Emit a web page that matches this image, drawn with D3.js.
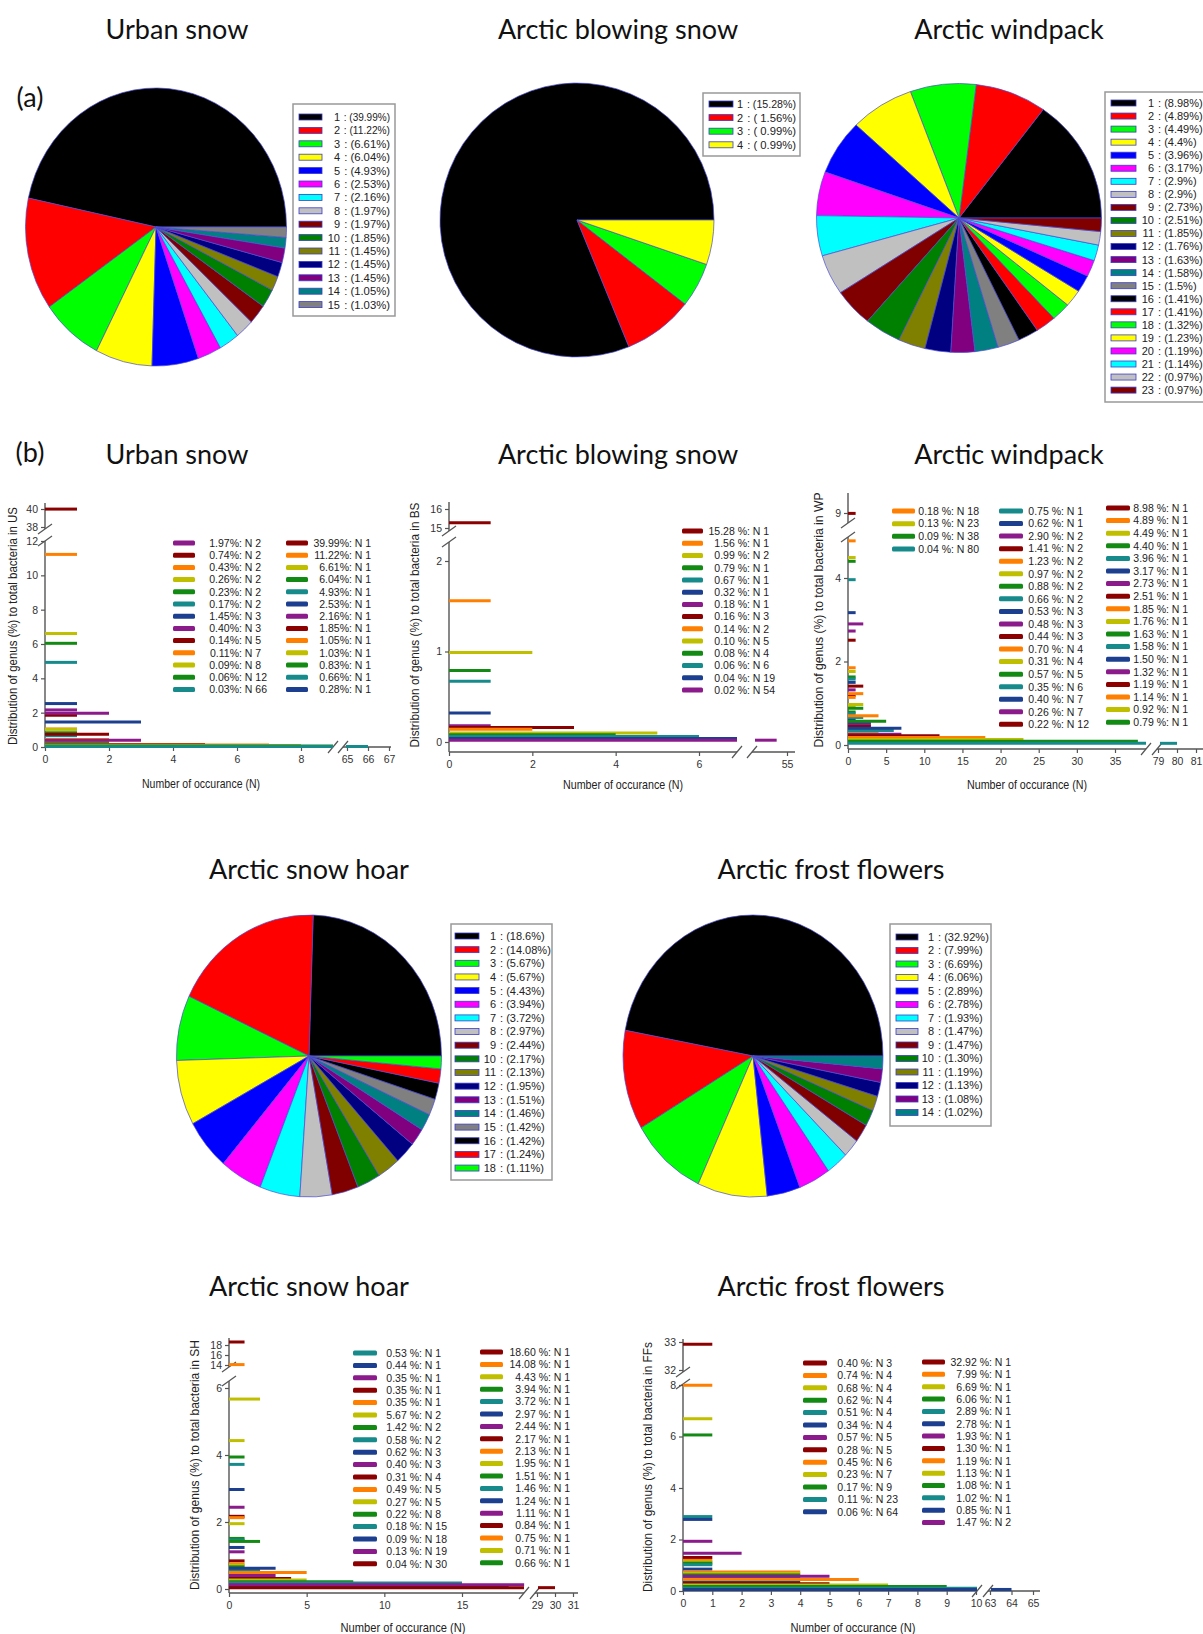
<!DOCTYPE html>
<html>
<head>
<meta charset="utf-8">
<script src="https://d3js.org/d3.v7.min.js"></script>
<style>
body { margin: 0; background: #fff; }
svg { display: block; font-family: "Liberation Sans", Arial, sans-serif; }
text { white-space: pre; }
</style>
</head>
<body>
<svg id="fig" width="1203" height="1634"></svg>
<script>
// ---- (a) pie data: genus share (%) per sample ----
const usPie = [39.99, 11.22, 6.61, 6.04, 4.93, 2.53, 2.16, 1.97, 1.97, 1.85, 1.45, 1.45, 1.45, 1.05, 1.03];
const bsPie = [15.28, 1.56, 0.99, 0.99];
// the windpack pie has 24 slices, its legend lists 23 of them (second 1.23 left out)
const wpPie = [8.98, 4.89, 4.49, 4.4, 3.96, 3.17, 2.9, 2.9, 2.73, 2.51, 1.85, 1.76, 1.63, 1.58, 1.5, 1.41, 1.41, 1.32, 1.23, 1.23, 1.19, 1.14, 0.97, 0.97];
const wpPieLegend = [8.98, 4.89, 4.49, 4.4, 3.96, 3.17, 2.9, 2.9, 2.73, 2.51, 1.85, 1.76, 1.63, 1.58, 1.5, 1.41, 1.41, 1.32, 1.23, 1.19, 1.14, 0.97, 0.97];
const shPie = [18.6, 14.08, 5.67, 5.67, 4.43, 3.94, 3.72, 2.97, 2.44, 2.17, 2.13, 1.95, 1.51, 1.46, 1.42, 1.42, 1.24, 1.11];
const ffPie = [32.92, 7.99, 6.69, 6.06, 2.89, 2.78, 1.93, 1.47, 1.47, 1.30, 1.19, 1.13, 1.08, 1.02];

// ---- (b) genus share (%) and number of occurrences N, in legend order ----
const usPct = [39.99, 11.22, 6.61, 6.04, 4.93, 2.53, 2.16, 1.85, 1.05, 1.03, 0.83, 0.66, 0.28,
               1.97, 0.74, 0.43, 0.26, 0.23, 0.17, 1.45, 0.4, 0.14, 0.11, 0.09, 0.06, 0.03];
const usN   = [1, 1, 1, 1, 1, 1, 1, 1, 1, 1, 1, 1, 1,
               2, 2, 2, 2, 2, 2, 3, 3, 5, 7, 8, 12, 66];

const bsPct = [15.28, 1.56, 0.99, 0.79, 0.67, 0.32, 0.18, 0.16, 0.14, 0.10, 0.08, 0.06, 0.04, 0.02];
const bsN   = [1, 1, 2, 1, 1, 1, 1, 3, 2, 5, 4, 6, 19, 54];

const wpPct = [8.98, 4.89, 4.49, 4.40, 3.96, 3.17, 2.73, 2.51, 1.85, 1.76, 1.63, 1.58, 1.50, 1.32, 1.19, 1.14, 0.92, 0.79,
               0.75, 0.62, 2.90, 1.41, 1.23, 0.97, 0.88, 0.66, 0.53, 0.48, 0.44, 0.70, 0.31, 0.57, 0.35, 0.40, 0.26, 0.22,
               0.18, 0.13, 0.09, 0.04];
const wpN   = [1, 1, 1, 1, 1, 1, 1, 1, 1, 1, 1, 1, 1, 1, 1, 1, 1, 1,
               1, 1, 2, 2, 2, 2, 2, 2, 3, 3, 3, 4, 4, 5, 6, 7, 7, 12,
               18, 23, 38, 80];

const shPct = [18.60, 14.08, 4.43, 3.94, 3.72, 2.97, 2.44, 2.17, 2.13, 1.95, 1.51, 1.46, 1.24, 1.11, 0.84, 0.75, 0.71, 0.66,
               0.53, 0.44, 0.35, 0.35, 0.35, 5.67, 1.42, 0.58, 0.62, 0.40, 0.31, 0.49, 0.27, 0.22, 0.18, 0.09, 0.13, 0.04];
const shN   = [1, 1, 1, 1, 1, 1, 1, 1, 1, 1, 1, 1, 1, 1, 1, 1, 1, 1,
               1, 1, 1, 1, 1, 2, 2, 2, 3, 3, 4, 5, 5, 8, 15, 18, 19, 30];

const ffPct = [32.92, 7.99, 6.69, 6.06, 2.89, 2.78, 1.93, 1.30, 1.19, 1.13, 1.08, 1.02, 0.85, 1.47,
               0.40, 0.74, 0.68, 0.62, 0.51, 0.34, 0.57, 0.28, 0.45, 0.23, 0.17, 0.11, 0.06];
const ffN   = [1, 1, 1, 1, 1, 1, 1, 1, 1, 1, 1, 1, 1, 2,
               3, 4, 4, 4, 4, 4, 5, 5, 6, 7, 9, 23, 64];

const pieColors = ['#000000', '#ff0000', '#00ff00', '#ffff00', '#0000ff', '#ff00ff', '#00ffff', '#c0c0c0',
                   '#800000', '#008000', '#808000', '#000080', '#800080', '#008080', '#808080'];
const barColors = ['#8b0000', '#ff7f00', '#bfbf00', '#138a13', '#178b8b', '#1c3f8f', '#8b1a8b'];

const svg = d3.select('#fig');

function title(txt, x, y) {
    svg.append('text')
        .attr('x', x).attr('y', y)
        .attr('text-anchor', 'middle')
        .style('font-family', 'Lato, "Open Sans", sans-serif')
        .style('font-size', '27px')
        .attr('fill', '#111')
        .text(txt);
}

function drawPie(o) {
    const g = svg.append('g')
        .attr('transform', `translate(${o.cx},${o.cy}) scale(${o.rx / o.ry},1)`);
    const pie = d3.pie().sort(null)
        .startAngle(Math.PI / 2)
        .endAngle(Math.PI / 2 - 2 * Math.PI); // counter-clockwise from 3 o'clock
    const arc = d3.arc().innerRadius(0).outerRadius(o.ry);

    g.selectAll('path')
        .data(pie(o.values))
        .join('path')
        .attr('d', arc)
        .attr('fill', (d, i) => pieColors[i % pieColors.length])
        .attr('stroke', '#4a4ad6')
        .attr('stroke-width', 0.7)
        .attr('vector-effect', 'non-scaling-stroke');

    // legend box
    const lg = svg.append('g');
    lg.append('rect')
        .attr('x', o.box[0]).attr('y', o.box[1])
        .attr('width', o.box[2]).attr('height', o.box[3])
        .attr('fill', '#fff')
        .attr('stroke', '#999')
        .attr('stroke-width', 1.5);

    const rows = lg.selectAll('g.row')
        .data(o.legend)
        .join('g')
        .attr('class', 'row')
        .attr('transform', (d, i) => `translate(0,${o.row0 + i * o.step})`);

    rows.append('rect')
        .attr('x', o.swX).attr('y', -3)
        .attr('width', o.swW).attr('height', 6)
        .attr('fill', (d, i) => pieColors[o.colorOf(i) % pieColors.length])
        .attr('stroke', '#3c3cc8')
        .attr('stroke-width', 0.8);

    rows.append('text')
        .attr('x', o.numX).attr('y', 3.9)
        .attr('text-anchor', 'end')
        .style('font-size', '11px')
        .attr('fill', '#222')
        .text((d, i) => i + 1);

    rows.append('text')
        .attr('x', o.numX + 1).attr('y', 3.9)
        .style('font-size', '11px')
        .attr('textLength', o.restLen)
        .attr('lengthAdjust', 'spacingAndGlyphs')
        .attr('fill', '#222')
        .text(d => ' : (' + o.fmt(d) + '%)');
}

function slash(g, x, y, dx, dy) {
    g.append('line')
        .attr('x1', x - dx).attr('y1', y + dy)
        .attr('x2', x + dx).attr('y2', y - dy)
        .attr('stroke', '#555').attr('stroke-width', 1.2);
}

function drawBars(o, pct, occ) {
    const g = svg.append('g');
    const yLo = d3.scaleLinear().domain(o.yLo[0]).range(o.yLo[1]);
    const yUp = d3.scaleLinear().domain(o.yUp[0]).range(o.yUp[1]);
    const xLo = d3.scaleLinear().domain(o.xLo[0]).range(o.xLo[1]);
    const xUp = d3.scaleLinear().domain(o.xUp[0]).range(o.xUp[1]);
    const fmt = d3.format('d');

    const axisStyle = sel => {
        sel.select('.domain').remove();
        sel.selectAll('.tick line').attr('stroke', '#555').attr('stroke-width', 1.2);
        sel.selectAll('.tick text')
            .attr('fill', '#333')
            .style('font-size', '10.5px')
            .style('font-family', '"Liberation Sans", Arial, sans-serif');
    };

    g.append('g').attr('transform', `translate(${o.ax},0)`)
        .call(d3.axisLeft(yLo).tickValues(o.yLoTicks).tickFormat(fmt).tickSize(4).tickPadding(3))
        .call(axisStyle);
    g.append('g').attr('transform', `translate(${o.ax},0)`)
        .call(d3.axisLeft(yUp).tickValues(o.yUpTicks).tickFormat(fmt).tickSize(4).tickPadding(3))
        .call(axisStyle);
    g.append('g').attr('transform', `translate(0,${o.ay})`)
        .call(d3.axisBottom(xLo).tickValues(o.xLoTicks).tickFormat(fmt).tickSize(4).tickPadding(5))
        .call(axisStyle);
    g.append('g').attr('transform', `translate(0,${o.ay})`)
        .call(d3.axisBottom(xUp).tickValues(o.xUpTicks).tickFormat(fmt).tickSize(4).tickPadding(5))
        .call(axisStyle);

    // axis lines with breaks
    const axLines = [
        [o.ax, o.ay, o.ax, o.yLoTop],
        [o.ax, o.yUpBot, o.ax, o.yTop],
        [o.ax, o.ay, o.xBreak, o.ay],
        [o.xUpStart, o.ay, o.xEnd, o.ay]
    ];
    g.selectAll('line.axl')
        .data(axLines)
        .join('line')
        .attr('class', 'axl')
        .attr('x1', d => d[0]).attr('y1', d => d[1])
        .attr('x2', d => d[2]).attr('y2', d => d[3])
        .attr('stroke', '#555').attr('stroke-width', 1.4);
    slash(g, o.ax, o.yLoTop, 7, 5);
    slash(g, o.ax, o.yUpBot, 7, 5);
    slash(g, o.xBreak, o.ay, 5, 6);
    slash(g, o.xUpStart, o.ay, 5, 6);

    // bars: one horizontal line per genus group, at y = share, length = N
    const loMax = xLo.invert(o.xBreak);
    const segs = [];
    pct.forEach((p, i) => {
        const y = p > o.yBreak ? yUp(p) : yLo(p);
        const c = barColors[i % barColors.length];
        const n = occ[i];
        if (n <= loMax + 0.01) {
            segs.push({ x1: xLo(0), x2: xLo(n), y, c });
        } else {
            segs.push({ x1: xLo(0), x2: o.xBreak, y, c });
            if (n >= xUp.domain()[0]) segs.push({ x1: o.xUpStart + 3, x2: xUp(n), y, c });
        }
    });
    g.selectAll('line.bar')
        .data(segs)
        .join('line')
        .attr('class', 'bar')
        .attr('x1', d => d.x1).attr('x2', d => d.x2)
        .attr('y1', d => d.y).attr('y2', d => d.y)
        .attr('stroke', d => d.c)
        .attr('stroke-width', 3);

    // axis titles
    g.append('text')
        .attr('transform', `translate(${o.yLabel[0]},${o.yLabel[1]}) rotate(-90)`)
        .attr('text-anchor', 'middle')
        .attr('dy', '0.35em')
        .attr('textLength', o.yLabel[2])
        .attr('lengthAdjust', 'spacingAndGlyphs')
        .style('font-size', '12.5px')
        .attr('fill', '#222')
        .text('Distribution of genus (%) to total bacteria in ' + o.tag);
    g.append('text')
        .attr('x', o.xLabel[0]).attr('y', o.xLabel[1])
        .attr('text-anchor', 'middle')
        .attr('textLength', o.xLabel[2])
        .attr('lengthAdjust', 'spacingAndGlyphs')
        .style('font-size', '13.5px')
        .attr('fill', '#222')
        .text('Number of occurance (N)');

    // legend columns
    let start = 0;
    o.cols.forEach(col => {
        const idx = d3.range(start, start + col.count);
        start += col.count;
        const rows = g.append('g').selectAll('g')
            .data(idx)
            .join('g')
            .attr('transform', (d, k) => `translate(0,${col.y0 + k * col.dy})`);
        rows.append('rect')
            .attr('x', col.swX).attr('y', -2.5)
            .attr('width', col.swW).attr('height', 5)
            .attr('rx', 1.5)
            .attr('fill', d => barColors[d % barColors.length]);
        rows.append('text')
            .attr('x', col.pctX).attr('y', 3.8)
            .attr('text-anchor', 'end')
            .style('font-size', '10.5px')
            .attr('fill', '#222')
            .text(d => pct[d].toFixed(2) + o.pctSuffix);
        rows.append('text')
            .attr('x', col.pctX).attr('y', 3.8)
            .style('font-size', '10.5px')
            .attr('fill', '#222')
            .text(d => ': N ' + occ[d]);
    });
}

// ---------- titles ----------
const topNames = ['Urban snow', 'Arctic blowing snow', 'Arctic windpack'];
const topX = [177, 618, 1009];
const lowNames = ['Arctic snow hoar', 'Arctic frost flowers'];
const lowX = [309, 831];
topNames.forEach((t, i) => { title(t, topX[i], 39); title(t, topX[i], 464); });
lowNames.forEach((t, i) => { title(t, lowX[i], 879); title(t, lowX[i], 1296); });
title('(a)', 30, 107);
title('(b)', 30, 462);

// ---------- (a) pies ----------
const f2 = d => d.toFixed(2);
drawPie({ cx: 156, cy: 227, rx: 130.5, ry: 139, values: usPie, legend: usPie, colorOf: i => i, fmt: f2, restLen: 49,
    box: [293, 104, 102, 212], row0: 117, step: 13.4, swX: 299, swW: 23, numX: 340 });
drawPie({ cx: 577, cy: 220, rx: 137, ry: 137, values: bsPie, legend: bsPie, colorOf: i => i, restLen: 52,
    fmt: d => (d < 10 ? ' ' : '') + d.toFixed(2),
    box: [703, 93, 97, 63], row0: 104, step: 13.6, swX: 709, swW: 24, numX: 743 });
// legend entries 20-23 take the colours of slices 21-24
drawPie({ cx: 959, cy: 218, rx: 142.5, ry: 134.5, values: wpPie, legend: wpPieLegend,
    colorOf: i => (i < 19 ? i : i + 1), fmt: d => String(d), restLen: null,
    box: [1105, 92, 100, 310], row0: 103, step: 13.05, swX: 1111, swW: 25, numX: 1154 });
drawPie({ cx: 309, cy: 1056, rx: 132.5, ry: 141, values: shPie, legend: shPie, colorOf: i => i, restLen: null,
    fmt: d => String(d === 18.6 ? '18.6' : d.toFixed(2)),
    box: [451, 924, 101, 256], row0: 936, step: 13.65, swX: 455, swW: 24, numX: 496 });
drawPie({ cx: 753, cy: 1056, rx: 130, ry: 141, values: ffPie, legend: ffPie, colorOf: i => i, fmt: f2, restLen: null,
    box: [890, 924, 101, 202], row0: 937, step: 13.5, swX: 896, swW: 22, numX: 934 });

// ---------- (b) occurrence charts ----------
drawBars({
    tag: 'US', ax: 45, ay: 747,
    yLo: [[0, 12], [747, 541]], yLoTop: 541, yLoTicks: [0, 2, 4, 6, 8, 10, 12],
    yUp: [[38, 40], [527, 509]], yUpBot: 529, yTop: 503, yUpTicks: [38, 40], yBreak: 20,
    xLo: [[0, 8], [45, 301]], xBreak: 333, xLoTicks: [0, 2, 4, 6, 8],
    xUp: [[65, 67], [347, 389]], xUpStart: 343, xEnd: 391, xUpTicks: [65, 66, 67],
    yLabel: [13, 626, 238], xLabel: [201, 788, 118], pctSuffix: '%',
    cols: [{ count: 13, swX: 286, swW: 22, pctX: 349, y0: 543, dy: 12.2 },
           { count: 13, swX: 173, swW: 22, pctX: 239, y0: 543, dy: 12.2 }]
}, usPct, usN);

drawBars({
    tag: 'BS', ax: 449, ay: 752,
    yLo: [[0, 2], [742, 561]], yLoTop: 542, yLoTicks: [0, 1, 2],
    yUp: [[15, 16], [528, 509]], yUpBot: 531, yTop: 502, yUpTicks: [15, 16], yBreak: 5,
    xLo: [[0, 6], [449, 699]], xBreak: 737, xLoTicks: [0, 2, 4, 6],
    xUp: [[52, 55], [756, 787]], xUpStart: 752, xEnd: 795, xUpTicks: [55],
    yLabel: [415, 625, 245], xLabel: [623, 789, 120], pctSuffix: ' %',
    cols: [{ count: 14, swX: 682, swW: 21, pctX: 747, y0: 531, dy: 12.23 }]
}, bsPct, bsN);

drawBars({
    tag: 'WP', ax: 848, ay: 749,
    yLo: [[0, 4], [745, 578]], yLoTop: 537, yLoTicks: [0, 2, 4],
    yUp: [[9, 10], [513, 493]], yUpBot: 523, yTop: 493, yUpTicks: [9], yBreak: 6,
    xLo: [[0, 35], [848, 1115]], xBreak: 1146, xLoTicks: [0, 5, 10, 15, 20, 25, 30, 35],
    xUp: [[79, 81], [1158, 1196]], xUpStart: 1157, xEnd: 1203, xUpTicks: [79, 80, 81],
    yLabel: [819, 620, 255], xLabel: [1027, 789, 120], pctSuffix: ' %',
    cols: [{ count: 18, swX: 1106, swW: 24, pctX: 1166, y0: 508, dy: 12.6 },
           { count: 18, swX: 999, swW: 24, pctX: 1061, y0: 511, dy: 12.55 },
           { count: 4, swX: 892, swW: 23, pctX: 951, y0: 511, dy: 12.67 }]
}, wpPct, wpN);

drawBars({
    tag: 'SH', ax: 229, ay: 1593,
    yLo: [[0, 6], [1589, 1388]], yLoTop: 1381, yLoTicks: [0, 2, 4, 6],
    yUp: [[14, 18], [1365, 1345]], yUpBot: 1367, yTop: 1338, yUpTicks: [14, 16, 18], yBreak: 10,
    xLo: [[0, 15], [229, 462]], xBreak: 524, xLoTicks: [0, 5, 10, 15],
    xUp: [[29, 31], [537, 573]], xUpStart: 535, xEnd: 578, xUpTicks: [29, 30, 31],
    yLabel: [195, 1465, 250], xLabel: [403, 1632, 125], pctSuffix: ' %',
    cols: [{ count: 18, swX: 480, swW: 23, pctX: 548, y0: 1352, dy: 12.4 },
           { count: 18, swX: 353, swW: 24, pctX: 419, y0: 1353, dy: 12.4 }]
}, shPct, shN);

drawBars({
    tag: 'FFs', ax: 683, ay: 1591,
    yLo: [[0, 8], [1591, 1385]], yLoTop: 1384, yLoTicks: [0, 2, 4, 6, 8],
    yUp: [[32, 33], [1370, 1342]], yUpBot: 1372, yTop: 1339, yUpTicks: [32, 33], yBreak: 20,
    xLo: [[0, 10], [683, 976]], xBreak: 977, xLoTicks: [0, 1, 2, 3, 4, 5, 6, 7, 8, 9, 10],
    xUp: [[63, 65], [990, 1033]], xUpStart: 988, xEnd: 1040, xUpTicks: [63, 64, 65],
    yLabel: [648, 1467, 250], xLabel: [853, 1632, 125], pctSuffix: ' %',
    cols: [{ count: 14, swX: 922, swW: 23, pctX: 989, y0: 1362, dy: 12.35 },
           { count: 13, swX: 803, swW: 24, pctX: 870, y0: 1363, dy: 12.4 }]
}, ffPct, ffN);
</script>
</body>
</html>
